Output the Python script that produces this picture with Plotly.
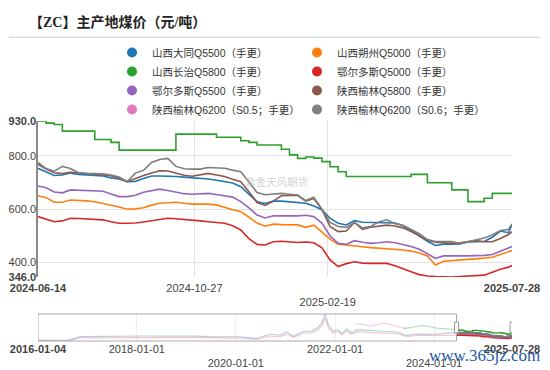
import plotly.graph_objects as go

# ---------------- data (main window) ----------------
dates = [
    "2024-06-14", "2024-06-21", "2024-06-28", "2024-07-05", "2024-07-12", "2024-07-19", "2024-07-26",
    "2024-08-02", "2024-08-09", "2024-08-16", "2024-08-23", "2024-08-30", "2024-09-06", "2024-09-13",
    "2024-09-20", "2024-09-27", "2024-10-04", "2024-10-11", "2024-10-18", "2024-10-25", "2024-11-01",
    "2024-11-08", "2024-11-15", "2024-11-22", "2024-11-29", "2024-12-06", "2024-12-13", "2024-12-20",
    "2024-12-27", "2025-01-03", "2025-01-10", "2025-01-17", "2025-01-24", "2025-01-31", "2025-02-07",
    "2025-02-14", "2025-02-21", "2025-02-28", "2025-03-07", "2025-03-14", "2025-03-21", "2025-03-28",
    "2025-04-04", "2025-04-11", "2025-04-18", "2025-04-25", "2025-05-02", "2025-05-09", "2025-05-16",
    "2025-05-23", "2025-05-30", "2025-06-06", "2025-06-13", "2025-06-20", "2025-06-27", "2025-07-04",
    "2025-07-11", "2025-07-18", "2025-07-25", "2025-07-28",
]

datong_q5500 = [753, 738, 726, 728, 735, 730, 728, 728, 724, 717,
                713, 703, 704, 715, 724, 724, 724, 722, 720, 718,
                716, 713, 708, 703, 698, 684, 655, 628, 621, 630,
                630, 628, 624, 622, 612, 598, 566, 547, 541, 557,
                551, 550, 550, 550, 548, 538, 522, 500, 480, 464,
                469, 469, 470, 477, 479, 479, 495, 518, 512, 541]
shuozhou_q5000 = [650, 643, 626, 626, 634, 633, 631, 628, 622, 614,
                  608, 600, 601, 605, 615, 622, 624, 626, 622, 619,
                  619, 619, 616, 606, 598, 591, 570, 548, 536, 544,
                  542, 541, 541, 532, 540, 514, 488, 469, 465, 461,
                  459, 456, 454, 451, 449, 447, 443, 436, 425, 391,
                  405, 408, 410, 412, 414, 417, 420, 430, 440, 445]
changzhi_q5800 = [930, 922, 917, 892, 892, 892, 892, 861, 861, 850,
                  821, 821, 821, 821, 821, 821, 821, 881, 881, 881,
                  881, 881, 869, 869, 869, 856, 850, 840, 840, 840,
                  824, 803, 790, 795, 791, 778, 759, 740, 722, 722,
                  722, 722, 722, 722, 722, 722, 730, 730, 699, 699,
                  699, 672, 672, 628, 628, 641, 659, 659, 659, 659]
ordos_q5000 = [572, 562, 553, 556, 566, 565, 564, 563, 560, 553,
               547, 547, 548, 552, 557, 563, 566, 564, 562, 558,
               556, 553, 550, 547, 538, 522, 490, 468, 466, 478,
               480, 478, 475, 477, 474, 455, 410, 385, 396, 403,
               398, 397, 398, 397, 388, 376, 366, 355, 350, 348,
               347, 346, 348, 350, 352, 353, 364, 375, 383, 389]
ordos_q5500 = [687, 680, 664, 661, 672, 671, 669, 668, 667, 657,
               647, 647, 652, 663, 670, 675, 670, 665, 658, 656,
               658, 659, 655, 650, 645, 628, 605, 578, 567, 575,
               576, 575, 575, 577, 572, 548, 500, 472, 468, 482,
               476, 472, 474, 478, 474, 468, 460, 450, 432, 416,
               425, 426, 425, 425, 425, 427, 430, 443, 454, 460]
yulin_q5800 = [768, 750, 736, 733, 738, 736, 734, 731, 728, 725,
               716, 703, 715, 726, 735, 744, 743, 734, 727, 723,
               728, 734, 728, 722, 712, 703, 665, 625, 614, 630,
               650, 652, 652, 630, 640, 598, 535, 516, 518, 550,
               524, 532, 537, 540, 537, 530, 516, 500, 484, 476,
               474, 472, 474, 478, 482, 478, 478, 490, 505, 516]
yulin_q6200_s05 = [None] * len(dates)
yulin_q6200_s06 = [775, 752, 742, 760, 752, 736, 734, 734, 732, 728,
                   720, 703, 735, 745, 775, 786, 790, 760, 751, 750,
                   750, 756, 754, 753, 746, 740, 702, 662, 654, 657,
                   659, 656, 653, 632, 645, 600, 550, 535, 532, 550,
                   530, 535, 552, 560, 545, 540, 525, 508, 486, 479,
                   479, 479, 471, 478, 486, 492, 503, 520, 524, 545]

# ---------------- data (overview history) ----------------
hist_dates = [
    "2016-01-04", "2016-05-01", "2016-08-20", "2016-11-10", "2017-03-01", "2017-07-01", "2017-11-01",
    "2018-03-01", "2018-07-01", "2018-11-01", "2019-03-01", "2019-07-01", "2019-11-01", "2020-02-01",
    "2020-06-01", "2020-09-10", "2020-11-20", "2021-01-10", "2021-02-28", "2021-05-12", "2021-06-30",
    "2021-08-19", "2021-09-25", "2021-10-19", "2021-11-13", "2021-12-19", "2022-01-25", "2022-02-19",
    "2022-03-28", "2022-05-04", "2022-06-09", "2022-09-16", "2022-12-23", "2023-03-31", "2023-06-13",
    "2023-08-26", "2023-10-26", "2024-01-20", "2024-04-01", "2024-06-14",
]
hist_datong = [230, 240, 260, 480, 490, 520, 540, 520, 510, 520, 510, 480, 460, 470,
               360, 650, 570, 790, 500, 830, 830, 1000, 1360, 2000, 1250, 830, 930, 670,
               990, 710, 930, 860, 830, 780, 565, 650, 620, 650, 700, 753]
hist_ordos = [200, 205, 215, 400, 410, 420, 430, 420, 410, 420, 410, 390, 370, 380,
              300, 520, 470, 640, 430, 700, 720, 850, 1150, 1700, 1050, 700, 800, 600,
              850, 620, 800, 740, 710, 680, 480, 560, 540, 560, 560, 572]
hist_s05_dates = ["2022-05-28", "2022-07-28", "2022-09-16", "2022-11-28", "2023-01-16",
                  "2023-03-06", "2023-04-25", "2023-06-10"]
hist_s05 = [1318, 1280, 1150, 1318, 1330, 1220, 1085, 1000]
hist_cz_dates = ["2023-05-20", "2023-08-01", "2023-10-11", "2024-01-20", "2024-04-01", "2024-06-14"]
hist_cz = [1000, 1100, 1215, 1039, 990, 930]

# ticks
y_tickvals = [346, 400, 600, 800, 930]
y_ticktext = ["<b>346.0</b>", "400.0", "600.0", "800.0", "<b>930.0</b>"]
y_grid = [400, 600, 800]
x_tickvals = ["2024-06-14", "2024-10-27", "2025-02-19", "2025-07-28"]
x_ticktext = ["<b>2024-06-14</b>", "2024-10-27", "<br>2025-02-19", "<b>2025-07-28</b>"]
x_grid = ["2024-10-27", "2025-02-19"]
ov_tickvals = ["2016-01-04", "2018-01-01", "2020-01-01", "2022-01-01", "2024-01-01", "2025-07-28"]
ov_ticktext = ["<b>2016-01-04</b>", "2018-01-01", "<br>2020-01-01", "2022-01-01", "<br>2024-01-01",
               "<b>2025-07-28</b>"]
ov_grid = ["2018-01-01", "2020-01-01", "2022-01-01", "2024-01-01"]

series = [
    ("山西大同Q5500（手更）", datong_q5500, "#1f77b4", "legend"),
    ("山西朔州Q5000（手更）", shuozhou_q5000, "#ff7f0e", "legend2"),
    ("山西长治Q5800（手更）", changzhi_q5800, "#2ca02c", "legend"),
    ("鄂尔多斯Q5000（手更）", ordos_q5000, "#d62728", "legend2"),
    ("鄂尔多斯Q5500（手更）", ordos_q5500, "#9467bd", "legend"),
    ("陕西榆林Q5800（手更）", yulin_q5800, "#8c564b", "legend2"),
    ("陕西榆林Q6200（S0.5；手更）", yulin_q6200_s05, "#e377c2", "legend"),
    ("陕西榆林Q6200（S0.6；手更）", yulin_q6200_s06, "#7f7f7f", "legend2"),
]

FONT = "Liberation Sans, Noto Sans CJK SC, sans-serif"
# the page body adds an 8px margin, so the figure is drawn 8px smaller and everything is placed
# 8px up/left of where it sits in the 550x370 view
W, H = 542, 362

fig = go.Figure()

# overview history (faint)
fig.add_trace(go.Scatter(x=hist_dates, y=hist_datong, xaxis="x2", yaxis="y2", mode="lines",
                         line=dict(color="rgba(31,119,180,0.35)", width=1.2), showlegend=False, hoverinfo="skip"))
fig.add_trace(go.Scatter(x=hist_dates, y=hist_ordos, xaxis="x2", yaxis="y2", mode="lines",
                         line=dict(color="rgba(214,39,40,0.25)", width=1.2), showlegend=False, hoverinfo="skip"))
fig.add_trace(go.Scatter(x=hist_s05_dates, y=hist_s05, xaxis="x2", yaxis="y2", mode="lines",
                         line=dict(color="rgba(227,119,194,0.35)", width=1.2), showlegend=False, hoverinfo="skip"))
fig.add_trace(go.Scatter(x=hist_cz_dates, y=hist_cz, xaxis="x2", yaxis="y2", mode="lines",
                         line=dict(color="rgba(44,160,44,0.3)", width=1.2), showlegend=False, hoverinfo="skip"))

for name, vals, color, lg in series:
    shape = "hv" if vals is changzhi_q5800 else "linear"
    fig.add_trace(go.Scatter(x=dates, y=vals, mode="lines", name=name, showlegend=False,
                             xaxis="x", yaxis="y",
                             line=dict(color=color, width=1.6, shape=shape)))
    fig.add_trace(go.Scatter(x=dates, y=vals, mode="lines", xaxis="x2", yaxis="y2", showlegend=False,
                             line=dict(color=color, width=1.4, shape=shape), hoverinfo="skip"))

for name, vals, color, lg in series:
    fig.add_trace(go.Scatter(x=[None], y=[None], mode="markers", name=name, legend=lg,
                             xaxis="x", yaxis="y", marker=dict(color=color, size=10)))

main_range = ["2024-06-14", "2025-07-28"]
ov_range = ["2016-01-04", "2025-07-28"]
tickfont = dict(family=FONT, size=11, color="#444")

fig.update_layout(
    width=W, height=H,
    margin=dict(l=30, r=38, t=113, b=29, autoexpand=False),
    paper_bgcolor="white", plot_bgcolor="white",
    font=dict(family=FONT, size=11, color="#333"),
    title=dict(text="<b>【ZC】主产地煤价（元/吨）</b>", x=21 / W, xref="container", xanchor="left",
               y=1 - 14.5 / H, yref="container", yanchor="middle",
               font=dict(family="Liberation Serif, Noto Sans CJK SC, serif", size=14, color="#222")),
    xaxis=dict(domain=[0, 1], anchor="y", range=main_range, type="date", automargin=False,
               tickmode="array", tickvals=x_tickvals, ticktext=x_ticktext, tickangle=0,
               ticklabelstandoff=3,
               showgrid=False, zeroline=False, showline=False, ticks="", tickfont=tickfont,
               minor=dict(tickmode="array", tickvals=x_grid, showgrid=True, gridcolor="#e3e3e3",
                          gridwidth=1, ticks="")),
    yaxis=dict(domain=[64 / 220, 1], anchor="x", range=[346, 930], automargin=False,
               tickmode="array", tickvals=y_tickvals, ticktext=y_ticktext, ticklabelstandoff=-2,
               showgrid=False, zeroline=False, showline=True, linecolor="#8a8a8a", linewidth=1.5,
               ticks="", tickfont=tickfont,
               minor=dict(tickmode="array", tickvals=y_grid, showgrid=True, gridcolor="#e3e3e3",
                          gridwidth=1, ticks="")),
    xaxis2=dict(domain=[0, 1], anchor="y2", range=ov_range, type="date", automargin=False,
                tickmode="array", tickvals=ov_tickvals, ticktext=ov_ticktext, tickangle=0,
                ticklabelstandoff=0,
                showgrid=False, zeroline=False, showline=False, ticks="", tickfont=tickfont,
                minor=dict(tickmode="array", tickvals=ov_grid, showgrid=True, gridcolor="#eeeeee",
                           gridwidth=1, ticks="")),
    yaxis2=dict(domain=[0, 27 / 220], anchor="x2", range=[194, 1954], automargin=False,
                showticklabels=False, showgrid=False, zeroline=False, showline=False, ticks=""),
    legend=dict(x=104 / W, xref="container", xanchor="left", y=1 - 30 / H, yref="container",
                yanchor="top", orientation="v", bgcolor="rgba(0,0,0,0)", tracegroupgap=0,
                font=dict(family=FONT, size=10.5, color="#333")),
    legend2=dict(x=289 / W, xref="container", xanchor="left", y=1 - 30 / H, yref="container",
                 yanchor="top", orientation="v", bgcolor="rgba(0,0,0,0)", tracegroupgap=0,
                 font=dict(family=FONT, size=10.5, color="#333")),
    showlegend=True,
)

# separator under title
fig.add_shape(type="line", xref="paper", yref="paper", x0=(9 - 38) / 474, x1=(540 - 38) / 474,
              y0=(341 - 37.3) / 220, y1=(341 - 37.3) / 220, line=dict(color="#cccccc", width=1))
# overview box
fig.add_shape(type="rect", xref="x2", yref="y2 domain", x0="2016-01-04", x1="2024-06-14", y0=0, y1=1,
              line=dict(color="#aaaaaa", width=1), fillcolor="rgba(0,0,0,0)")
# handles
for hx in ["2024-06-14", "2025-07-28"]:
    fig.add_shape(type="rect", xref="x2", yref="y2 domain", xsizemode="pixel", xanchor=hx,
                  x0=-2, x1=2, y0=0.3, y1=0.7, line=dict(color="#999", width=1), fillcolor="white")

# watermarks
fig.add_annotation(text="紫金天风期货", xref="paper", yref="paper", x=(276.7 - 38) / 474,
                   y=(341 - 181.7) / 220, showarrow=False, xanchor="center", yanchor="middle",
                   font=dict(family=FONT, size=10.5, color="rgba(180,180,180,0.6)"))
fig.add_annotation(text="www.365jz.com", xref="paper", yref="paper", x=(484 - 38) / 474,
                   y=(341 - 355) / 220, showarrow=False, xanchor="center", yanchor="middle",
                   font=dict(family="Liberation Serif, serif", size=17, color="#2458a6"))

fig.write_html("out.html")
